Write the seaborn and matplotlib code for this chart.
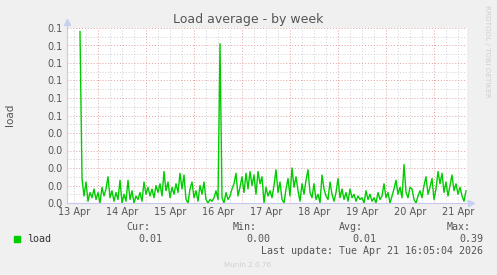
import numpy as np
import pandas as pd
import matplotlib
matplotlib.use("Agg")
import matplotlib.pyplot as plt
import seaborn as sns

# ---------------- data ----------------
title = "Load average - by week"
y_label = "load"
series_name = "load"
# hourly samples, starting 13 Apr 15:00 (hours counted from 13 Apr 00:00)
start_hour = 15
load_milli = [
    98, 14, 4, 12, 1, 6, 3, 8, 2, 6, 0, 9, 4, 8, 15, 3, 7, 1, 6, 2, 13, 0, 5, 1,
    13, 2, 7, 0, 4, 2, 6, 1, 12, 5, 9, 4, 8, 3, 10, 6, 11, 4, 18, 7, 12, 3, 9, 5,
    11, 6, 17, 8, 16, 2, 0, 8, 12, 3, 7, 1, 10, 5, 12, 2, 0, 2, 1, 3, 7, 2, 91, 3,
    0, 6, 2, 4, 8, 11, 17, 4, 9, 15, 6, 17, 8, 18, 10, 16, 5, 18, 11, 15, 0, 9, 4, 7,
    3, 10, 19, 6, 12, 2, 0, 8, 14, 4, 20, 9, 15, 7, 1, 11, 5, 13, 19, 6, 3, 11, 2, 5,
    0, 16, 8, 4, 2, 12, 5, 1, 6, 14, 3, 8, 2, 6, 1, 8, 3, 5, 1, 4, 2, 3, 0, 7,
    2, 5, 1, 3, 0, 6, 2, 4, 11, 3, 6, 0, 4, 8, 13, 5, 9, 3, 22, 6, 3, 9, 8, 2,
    0, 4, 7, 3, 10, 15, 5, 9, 14, 2, 8, 18, 11, 17, 6, 12, 4, 10, 16, 7, 11, 5, 9, 4,
    1, 7,
]
day_labels = ["13 Apr", "14 Apr", "15 Apr", "16 Apr", "17 Apr",
              "18 Apr", "19 Apr", "20 Apr", "21 Apr"]
y_tick_labels = ["0.0", "0.0", "0.0", "0.0", "0.0", "0.1",
                 "0.1", "0.1", "0.1", "0.1", "0.1"]
legend_headers = ["Cur:", "Min:", "Avg:", "Max:"]
legend_values = ["0.01", "0.00", "0.01", "0.39"]
last_update = "Last update: Tue Apr 21 16:05:04 2026"
footer = "Munin 2.0.76"
side_text = "RRDTOOL / TOBI OETIKER"

hours = start_hour + np.arange(len(load_milli))
df = pd.DataFrame({"hour": hours, "load": np.array(load_milli) / 1000.0})

# ---------------- figure ----------------
W, H = 497, 275
fig = plt.figure(figsize=(W / 100, H / 100), dpi=100, facecolor="#f0f0f0")
L, R, T, B = 67, 467, 28, 203
ax = fig.add_axes([L / W, 1 - B / H, (R - L) / W, (B - T) / H])
ax.set_facecolor("white")

txt = "#555555"
sns.lineplot(data=df, x="hour", y="load", ax=ax, color="#00cc00", lw=1.0,
             zorder=3)

ax.set_xlim(8.5, 208.5)
ax.set_ylim(0, 0.1)

# grids
for h in np.arange(12, 209, 6):
    if h % 24 == 0:
        ax.axvline(h, color="#e6a0a0", lw=0.7, ls=(0, (1, 2)), zorder=1)
    else:
        ax.axvline(h, color="#cfcfcf", lw=0.7, ls=(0, (1, 2)), zorder=1)
for i, v in enumerate(np.arange(0.005, 0.1001, 0.005)):
    if i % 2 == 1:
        ax.axhline(v, color="#e6a0a0", lw=0.7, ls=(0, (1, 2)), zorder=1)
    else:
        ax.axhline(v, color="#cfcfcf", lw=0.7, ls=(0, (1, 2)), zorder=1)

ax.set_xticks(12 + 24 * np.arange(len(day_labels)))
ax.set_xticklabels(day_labels)
ax.set_yticks(np.linspace(0, 0.1, len(y_tick_labels)))
ax.set_yticklabels(y_tick_labels)
ax.tick_params(axis="both", length=0, labelsize=7, labelcolor=txt, pad=3)
ax.set_xlabel("")
ax.set_ylabel("")

for s in ["top", "right"]:
    ax.spines[s].set_visible(False)
for s in ["left", "bottom"]:
    ax.spines[s].set_color("#c8c8f0")
    ax.spines[s].set_linewidth(0.8)
# axis arrows
ax.plot([0, 0], [1.0, 1.03], color="#c8c8f0", lw=0.8, transform=ax.transAxes, clip_on=False)
ax.plot([0], [1.035], marker="^", ms=4, color="#c8d0f0", transform=ax.transAxes, clip_on=False)
ax.plot([1.0, 1.0075], [0, 0], color="#c8c8f0", lw=0.8, transform=ax.transAxes, clip_on=False)
ax.plot([1.009], [0], marker=">", ms=4, color="#c8d0f0", transform=ax.transAxes, clip_on=False)

def fx(px):
    return px / W

def fy(py):
    return 1 - py / H

fig.text(fx(248), fy(19), title, ha="center", va="center", fontsize=9, color=txt)
fig.text(fx(10), fy(115), y_label, ha="center", va="center", rotation=90,
         fontsize=7.5, color=txt)
fig.text(fx(487), fy(5), side_text, ha="center", va="top", rotation=-90,
         fontsize=5.2, color="#cfcfcf")

mono = "DejaVu Sans Mono"
fs = 7.2
fig.patches.append(plt.Rectangle((fx(14), fy(242)), 6 / W, 6 / H,
                                 transform=fig.transFigure, color="#00cc00"))
fig.text(fx(27), fy(239.5), series_name, ha="left", va="center", family=mono,
         fontsize=fs, color="#333333")
head_right = [150, 257, 363, 471]
val_right = [162, 270, 376, 483]
for hdr, hx in zip(legend_headers, head_right):
    fig.text(fx(hx), fy(227.5), hdr, ha="right", va="center", family=mono,
             fontsize=fs, color=txt)
for val, vx in zip(legend_values, val_right):
    fig.text(fx(vx), fy(239.5), val, ha="right", va="center", family=mono,
             fontsize=fs, color=txt)
fig.text(fx(483), fy(251.5), last_update, ha="right", va="center", family=mono,
         fontsize=fs, color=txt)
fig.text(fx(248), fy(265), footer, ha="center", va="center", fontsize=5.2,
         color="#cfcfcf")

fig.savefig("out.png", dpi=100, facecolor=fig.get_facecolor())
